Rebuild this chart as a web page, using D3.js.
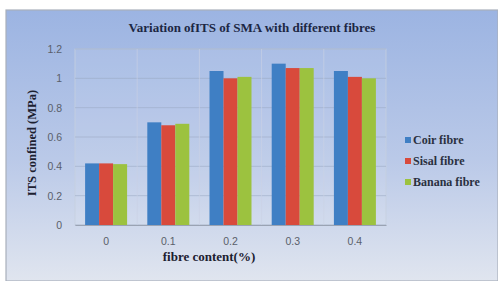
<!DOCTYPE html>
<html><head><meta charset="utf-8">
<script src="https://cdn.jsdelivr.net/npm/d3@7"></script>
<style>html,body{margin:0;padding:0;background:#fff;}svg{display:block;}</style>
</head><body>
<svg id="c" width="498" height="281"></svg>
<script>
const categories = ["0", "0.1", "0.2", "0.3", "0.4"];
const seriesNames = ["Coir fibre", "Sisal fibre", "Banana fibre"];
const coir = [0.42, 0.70, 1.05, 1.10, 1.05];
const sisal = [0.42, 0.68, 1.00, 1.07, 1.01];
const banana = [0.415, 0.69, 1.01, 1.07, 1.00];
const yTicks = [0, 0.2, 0.4, 0.6, 0.8, 1, 1.2];
const colors = ["#3f7fc4", "#d84a3c", "#9cc23f"];
const title = "Variation ofITS of SMA with different fibres";
const yTitle = "ITS confined (MPa)";
const xTitle = "fibre content(%)";

const series = [coir, sisal, banana];
const svg = d3.select("#c");
const defs = svg.append("defs");
const g = defs.append("linearGradient").attr("id","bg").attr("x1",0).attr("y1",0).attr("x2",0).attr("y2",1);
g.append("stop").attr("offset","0%").attr("stop-color","#9cb4e2");
g.append("stop").attr("offset","55%").attr("stop-color","#bac9e8");
g.append("stop").attr("offset","100%").attr("stop-color","#e0e5ef");

svg.append("rect").attr("x",6).attr("y",10).attr("width",492).attr("height",271)
  .attr("fill","url(#bg)").attr("stroke","#a9b0bb").attr("stroke-width",1.2);

const L = 75, R = 386, T = 49, B = 225;
const x0 = d3.scaleBand().domain(categories).range([L, R]).paddingInner(0).paddingOuter(0);
const inner = x0.bandwidth() * 0.675;
const x1 = d3.scaleBand().domain(seriesNames).range([0, inner]).padding(0);
const y = d3.scaleLinear().domain([0, 1.2]).range([B, T]);

svg.append("rect").attr("x",L).attr("y",T).attr("width",R-L).attr("height",B-T)
  .attr("fill","#ffffff").attr("fill-opacity",0.08).attr("stroke","#c6cfdf").attr("stroke-width",0.8);

svg.append("g").selectAll("line").data(yTicks).join("line")
  .attr("x1",L).attr("x2",R).attr("y1",d=>y(d)).attr("y2",d=>y(d))
  .attr("stroke","#9aa8c4").attr("stroke-opacity",0.7).attr("stroke-width",0.8);
svg.append("g").selectAll("line").data(categories.slice(1)).join("line")
  .attr("x1",d=>x0(d)).attr("x2",d=>x0(d)).attr("y1",T).attr("y2",B)
  .attr("stroke","#c9d2e4").attr("stroke-opacity",0.8).attr("stroke-width",0.8);

categories.forEach((c, ci) => {
  const gx = x0(c) + (x0.bandwidth() - inner) / 2;
  series.forEach((s, si) => {
    svg.append("rect")
      .attr("x", gx + x1(seriesNames[si]))
      .attr("y", y(s[ci]))
      .attr("width", x1.bandwidth())
      .attr("height", B - y(s[ci]))
      .attr("fill", colors[si]);
  });
});

const yAxis = svg.append("g").attr("transform",`translate(${L},0)`)
  .call(d3.axisLeft(y).tickValues(yTicks).tickSize(0).tickPadding(13).tickFormat(d3.format("~g")));
yAxis.select(".domain").remove();
yAxis.selectAll("text").attr("fill","#5a5f6a").style("font-family","Liberation Sans, Arial, sans-serif").style("font-size","10.5px");

const xAxis = svg.append("g").attr("transform",`translate(0,${B})`)
  .call(d3.axisBottom(x0).tickSize(0).tickPadding(13));
xAxis.select(".domain").attr("stroke","#9aa3b3");
xAxis.selectAll("text").attr("fill","#5a5f6a").style("font-family","Liberation Sans, Arial, sans-serif").style("font-size","10.5px");

svg.append("text").attr("x",252).attr("y",32).attr("text-anchor","middle")
  .style("font-family","Liberation Serif, Times New Roman, serif").style("font-weight","bold").style("font-size","13px")
  .attr("fill","#1c2744").text(title);
svg.append("text").attr("transform","translate(36,143) rotate(-90)").attr("text-anchor","middle")
  .style("font-family","Liberation Serif, Times New Roman, serif").style("font-weight","bold").style("font-size","12.5px")
  .attr("fill","#1c2030").text(yTitle);
svg.append("text").attr("x",209).attr("y",261).attr("text-anchor","middle")
  .style("font-family","Liberation Serif, Times New Roman, serif").style("font-weight","bold").style("font-size","13px")
  .attr("fill","#1c2030").text(xTitle);

const lg = svg.append("g");
seriesNames.forEach((n, i) => {
  const ly = 140 + i * 21;
  lg.append("rect").attr("x",405).attr("y",ly-3).attr("width",6).attr("height",6).attr("fill",colors[i]);
  lg.append("text").attr("x",413).attr("y",ly+4)
    .style("font-family","Liberation Serif, Times New Roman, serif").style("font-weight","bold").style("font-size","12px")
    .attr("fill","#2a3040").text(n);
});
</script>
</body></html>
